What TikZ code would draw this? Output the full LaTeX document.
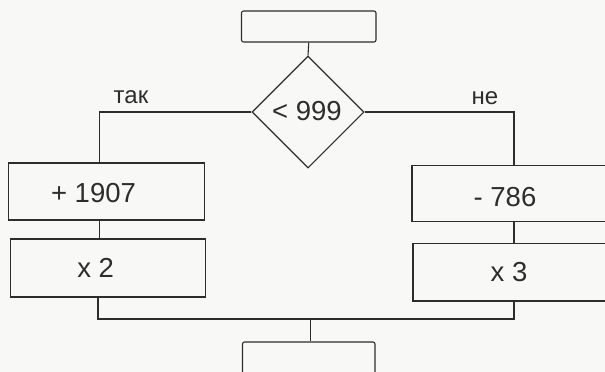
\documentclass[tikz,border=0pt]{standalone}
\usepackage{fontspec}
\setmainfont{Liberation Sans}
\usetikzlibrary{shapes.geometric,calc}
\definecolor{ink}{RGB}{45,45,45}
\definecolor{paper}{RGB}{248,248,246}
\begin{document}
\begin{tikzpicture}[x=1pt,y=-1pt,
  line/.style={draw=ink,line width=1.1pt},
  opbox/.style={line,rectangle,inner sep=0pt},
  termbox/.style={opbox,rounded corners=2pt},
  decision/.style={line,diamond,aspect=1,inner sep=0pt,minimum width=112pt,minimum height=112pt},
  optext/.style={text=ink,inner sep=0pt,font=\fontsize{27.5}{27.5}\selectfont},
  branch/.style={text=ink,inner sep=0pt,font=\fontsize{24}{24}\selectfont}]
\useasboundingbox[fill=paper] (0,0) rectangle (605,372);
\clip (0,0) rectangle (605,372);
% nodes
\node[termbox,minimum width=134.5pt,minimum height=31pt] (top) at (308.75,26.5) {};
\node[decision] (dia) at (308,112) {};
\node[optext] (diat) at (307,111) {< 999};
\node[opbox,minimum width=196pt,minimum height=57pt] (b1) at (106.5,191.5) {};
\node[optext] (b1t) at (93.5,193) {+ 1907};
\node[opbox,minimum width=195pt,minimum height=58pt] (b2) at (108,268) {};
\node[optext] (b2t) at (95.7,268) {x 2};
\node[opbox,minimum width=196pt,minimum height=56pt] (b3) at (510,193.5) {};
\node[optext] (b3t) at (505,197) {- 786};
\node[opbox,minimum width=196pt,minimum height=57.5pt] (b4) at (511,272.25) {};
\node[optext] (b4t) at (509,272) {x 3};
\node[termbox,minimum width=132.5pt,minimum height=43pt] (bot) at (308.75,363.5) {};
\node[branch] (yes) at (131,97) {так};
\node[branch] (no) at (485,98) {не};
\coordinate (j) at (310.5,319);
% connectors
\draw[line] (top.south) -- (dia.north);
\draw[line] (dia.west) -| ($(b1.north)+(-7,0)$);
\draw[line] (dia.east) -| ($(b3.north)+(4,0)$);
\draw[line] ($(b1.south)+(-7,0)$) -- ($(b2.north)+(-8.5,0)$);
\draw[line] ($(b3.south)+(4,0)$) -- ($(b4.north)+(3,0)$);
\draw[line] ($(b2.south)+(-10,0)$) |- (j) -| ($(b4.south)+(3,0)$);
\draw[line] (j) -- (j |- bot.north);
\end{tikzpicture}
\end{document}
